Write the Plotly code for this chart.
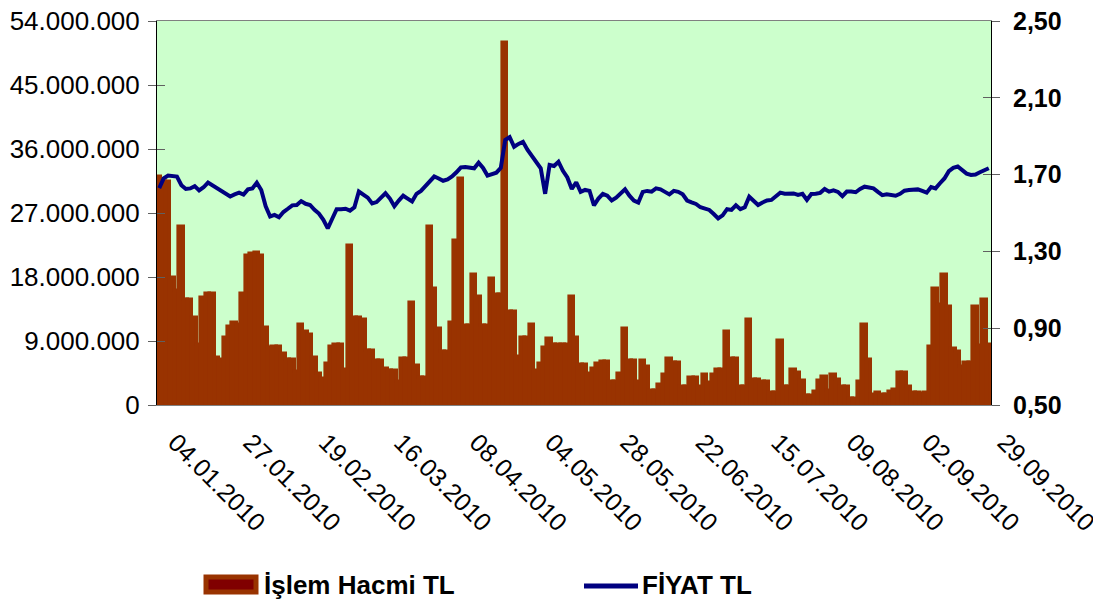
import pandas as pd
import plotly.graph_objects as go

# ---- data ----
holidays = ["2010-04-23", "2010-05-19", "2010-08-30", "2010-09-09", "2010-09-10"]
dates = [d.strftime("%d.%m.%Y") for d in pd.bdate_range("2010-01-04", "2010-09-29")
         if d.strftime("%Y-%m-%d") not in holidays]

tick_dates = ["04.01.2010", "27.01.2010", "19.02.2010", "16.03.2010", "08.04.2010",
              "04.05.2010", "28.05.2010", "22.06.2010", "15.07.2010", "09.08.2010",
              "02.09.2010", "29.09.2010"]

# İşlem Hacmi TL (million TL)
volume_m = [
    32.1, 31.4, 31.4, 17.8, 16.0, 25.1, 14.8, 14.8, 12.2, 8.4,
    15.0, 15.6, 15.6, 6.6, 6.3, 9.4, 11.0, 11.6, 11.25, 15.6,
    20.9, 21.2, 21.4, 20.9, 10.8, 8.0, 8.2, 8.2, 7.2, 6.3,
    6.3, 4.7, 11.3, 10.3, 9.8, 6.6, 4.3, 3.6, 5.7, 8.2,
    8.5, 8.5, 4.9, 22.3, 12.2, 12.2, 12.0, 7.6, 7.6, 6.2,
    6.2, 5.0, 4.8, 4.8, 3.2, 6.4, 6.4, 14.3, 5.5, 3.8,
    3.8, 25.0, 16.3, 10.7, 7.4, 7.4, 11.6, 23.1, 31.8, 11.1,
    11.1, 18.3, 15.2, 11.1, 11.1, 17.7, 15.5, 15.5, 50.9, 13.1,
    13.1, 6.7, 9.4, 9.4, 11.25, 4.8, 5.8, 8.0, 9.3, 8.5,
    8.5, 8.5, 8.5, 15.2, 9.4, 5.6, 5.6, 4.3, 5.0, 5.7,
    6.0, 6.0, 3.2, 3.2, 4.3, 10.7, 6.2, 6.2, 3.3, 6.2,
    5.4, 2.0, 2.0, 2.8, 4.2, 6.5, 5.9, 5.9, 2.6, 2.6,
    3.75, 3.75, 2.5, 4.2, 3.1, 4.2, 4.9, 4.9, 10.2, 6.5,
    6.5, 2.6, 2.6, 11.9, 3.5, 3.5, 3.2, 3.2, 1.7, 1.7,
    9.0, 2.5, 2.5, 4.9, 4.5, 3.4, 1.3, 1.3, 1.8, 3.4,
    4.0, 1.9, 4.2, 3.5, 2.5, 2.5, 0.9, 0.9, 3.2, 11.25,
    6.3, 1.4, 1.7, 1.4, 1.4, 1.8, 2.1, 4.5, 4.5, 2.6,
    1.7, 1.7, 1.6, 1.7, 8.2, 16.3, 14.0, 18.3, 13.8, 7.9,
    7.5, 5.4, 5.9, 5.9, 13.8, 8.3, 14.7, 8.5,
]

# FİYAT TL
price = [
    1.63, 1.68, 1.695, 1.695, 1.69, 1.645, 1.625, 1.628, 1.64, 1.618,
    1.634, 1.658, 1.643, 1.627, 1.61, 1.597, 1.586, 1.597, 1.606, 1.596,
    1.623, 1.628, 1.658, 1.62, 1.535, 1.482, 1.49, 1.478, 1.505, 1.522,
    1.54, 1.542, 1.562, 1.548, 1.542, 1.517, 1.497, 1.465, 1.42, 1.47,
    1.52, 1.52, 1.522, 1.512, 1.53, 1.612, 1.597, 1.58, 1.55, 1.557,
    1.58, 1.603, 1.575, 1.535, 1.565, 1.59, 1.575, 1.56, 1.60, 1.615,
    1.64, 1.665, 1.69, 1.68, 1.668, 1.675, 1.69, 1.712, 1.738, 1.74,
    1.738, 1.733, 1.762, 1.735, 1.695, 1.70, 1.71, 1.735, 1.88, 1.895,
    1.845, 1.86, 1.871, 1.83, 1.795, 1.76, 1.733, 1.60, 1.75, 1.745,
    1.767, 1.72, 1.685, 1.625, 1.66, 1.61, 1.62, 1.615, 1.54, 1.575,
    1.60, 1.59, 1.565, 1.58, 1.60, 1.623, 1.59, 1.565, 1.554, 1.61,
    1.615, 1.611, 1.628, 1.623, 1.61, 1.597, 1.615, 1.61, 1.597, 1.565,
    1.555, 1.547, 1.53, 1.522, 1.516, 1.495, 1.472, 1.488, 1.52, 1.516,
    1.54, 1.52, 1.53, 1.585, 1.56, 1.542, 1.555, 1.565, 1.568, 1.585,
    1.606, 1.60, 1.60, 1.602, 1.594, 1.60, 1.568, 1.599, 1.60, 1.605,
    1.625, 1.611, 1.618, 1.61, 1.588, 1.612, 1.612, 1.608, 1.625, 1.637,
    1.633, 1.628, 1.61, 1.593, 1.597, 1.594, 1.59, 1.60, 1.616, 1.62,
    1.623, 1.623, 1.615, 1.606, 1.635, 1.628, 1.655, 1.68, 1.718, 1.735,
    1.742, 1.725, 1.705, 1.698, 1.70, 1.712, 1.722, 1.733,
]

left_ticks = [0, 9, 18, 27, 36, 45, 54]
left_labels = ["0", "9.000.000", "18.000.000", "27.000.000", "36.000.000", "45.000.000", "54.000.000"]
right_ticks = [0.5, 0.9, 1.3, 1.7, 2.1, 2.5]
right_labels = ["0,50", "0,90", "1,30", "1,70", "2,10", "2,50"]

series_names = ["İşlem Hacmi TL", "FİYAT TL"]

# ---- figure ----
FONT = "Liberation Sans, Arial, sans-serif"
OFF = 8                      # page body margin of the html
W, H = 1101 - OFF, 602 - OFF
L, T = 157 - OFF, 21 - OFF
R = W - (991 - OFF)
B = H - (405 - OFF)
PW, PH = W - L - R, H - T - B


def px_x(x):
    return (x - OFF - L) / PW


def px_y(y):
    return (H - B - (y - OFF)) / PH


fig = go.Figure()
fig.add_trace(go.Bar(
    x=dates, y=volume_m, name=series_names[0],
    marker=dict(color="#993300", line=dict(color="#993300", width=3.6)),
    yaxis="y",
))
fig.add_trace(go.Scatter(
    x=dates, y=price, name=series_names[1], mode="lines",
    line=dict(color="#000080", width=4),
    yaxis="y2",
))
# helper empty traces so the inner-tick axes are drawn
fig.add_trace(go.Scatter(x=[], y=[], yaxis="y3", showlegend=False))
fig.add_trace(go.Scatter(x=[], y=[], yaxis="y4", showlegend=False))

fig.update_layout(
    width=W, height=H,
    margin=dict(l=L, r=R, t=T, b=B, autoexpand=False),
    paper_bgcolor="white",
    plot_bgcolor="#CCFFCC",
    bargap=0,
    showlegend=False,
    xaxis=dict(
        type="category",
        range=[-0.5, len(dates) - 0.5],
        tickmode="array", tickvals=tick_dates, ticktext=tick_dates,
        tickangle=45, tickfont=dict(family=FONT, size=25, color="black"),
        ticks="", showgrid=False, zeroline=False,
        showline=True, linecolor="#808080", linewidth=1, mirror=True,
        ticklabelstandoff=12, ticklabelshift=16, automargin=False,
        ticklabeloverflow="allow",
    ),
    yaxis=dict(
        range=[0, 54], tickmode="array", tickvals=left_ticks, ticktext=left_labels,
        tickfont=dict(family=FONT, size=26, color="black"),
        ticks="outside", ticklen=8, tickcolor="#606060",
        showline=True, linecolor="black", linewidth=1,
        showgrid=False, zeroline=False, ticklabelstandoff=3, automargin=False,
        ticklabeloverflow="allow",
    ),
    yaxis2=dict(
        overlaying="y", side="right",
        range=[0.5, 2.5], tickmode="array", tickvals=right_ticks, ticktext=right_labels,
        tickfont=dict(family=FONT, size=25, color="black", weight="bold"),
        ticks="outside", ticklen=8, tickcolor="#606060",
        showline=True, linecolor="black", linewidth=1,
        showgrid=False, zeroline=False, ticklabelstandoff=8, automargin=False,
        ticklabeloverflow="allow",
    ),
    yaxis3=dict(
        overlaying="y", side="left", range=[0, 54],
        tickmode="array", tickvals=left_ticks, ticks="inside", ticklen=8,
        tickcolor="#606060", showticklabels=False, showline=False,
        showgrid=False, zeroline=False,
    ),
    yaxis4=dict(
        overlaying="y", side="right", range=[0.5, 2.5],
        tickmode="array", tickvals=right_ticks, ticks="inside", ticklen=8,
        tickcolor="#606060", showticklabels=False, showline=False,
        showgrid=False, zeroline=False,
    ),
)

# ---- manual legend ----
fig.add_shape(type="rect", xref="paper", yref="paper",
              x0=px_x(206), x1=px_x(256), y0=px_y(592), y1=px_y(577),
              fillcolor="#800000", line=dict(color="#993300", width=5))
fig.add_shape(type="line", xref="paper", yref="paper",
              x0=px_x(584), x1=px_x(638), y0=px_y(586), y1=px_y(586),
              line=dict(color="#000080", width=5))
legend_font = dict(family=FONT, size=26, color="black", weight="bold")
fig.add_annotation(text=series_names[0], xref="paper", yref="paper",
                   x=px_x(262), y=px_y(585), xanchor="left", yanchor="middle",
                   showarrow=False, font=legend_font)
fig.add_annotation(text=series_names[1], xref="paper", yref="paper",
                   x=px_x(640), y=px_y(585), xanchor="left", yanchor="middle",
                   showarrow=False, font=legend_font)

fig.write_html("out.html")
